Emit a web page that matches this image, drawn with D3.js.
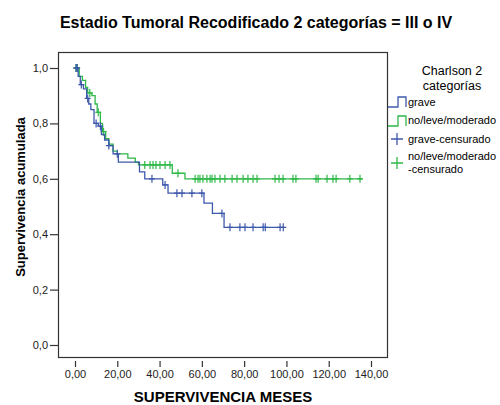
<!DOCTYPE html>
<html>
<head>
  <meta charset="utf-8">
  <title>Supervivencia acumulada</title>
  <style>
    body { margin: 0; background: #fff; }
    svg text { font-family: "Liberation Sans", Arial, sans-serif; fill: #000; }
  </style>
</head>
<body>
  <div id="chart"></div>

  <script src="https://d3js.org/d3.v7.min.js"></script>
  <script>
    // Kaplan-Meier steps (time in months, cumulative survival)
    const graveTimes = [0, 1.5, 2.5, 4, 5.5, 6.5, 7.5, 9, 11, 12.5, 14, 16, 18, 20.5, 30.5, 33, 41.5, 44, 61, 65, 70.5];
    const graveSurv  = [1, 0.97, 0.94, 0.925, 0.89, 0.87, 0.85, 0.80, 0.79, 0.76, 0.74, 0.72, 0.69, 0.66, 0.625, 0.60, 0.578, 0.548, 0.512, 0.475, 0.425];
    const graveEnd = 99;
    const graveCens = [0.5, 1, 3, 6, 10, 12, 16, 20, 36.4, 42.6, 48.2, 50.6, 55.3, 60, 69.5, 73.3, 78, 80.4, 84.2, 89, 90, 97, 98.5];

    const levesTimes = [0, 2, 3.5, 5, 6, 8, 9.5, 10.5, 12, 13, 14.5, 16, 18, 20, 25, 28.5, 30, 46, 52];
    const levesSurv  = [1, 0.97, 0.955, 0.93, 0.91, 0.90, 0.87, 0.84, 0.80, 0.77, 0.745, 0.725, 0.70, 0.69, 0.675, 0.66, 0.65, 0.62, 0.60];
    const levesEnd = 136;
    const levesCens = [0.5, 1, 7, 11, 13.5, 33, 35.5, 36.9, 38.3, 40.2, 42.6, 44.9, 48.7,
      56.8, 58.2, 59.1, 60.5, 62.4, 63.9, 64.8, 66.2, 68.6, 70.9, 74.3, 76.6, 79.5, 81.8,
      84.2, 86.1, 94.6, 96.5, 98.4, 103.1, 104.5, 114, 115, 119.2, 122, 123.5, 130, 134.8];

    const xTicks = [0, 20, 40, 60, 80, 100, 120, 140];
    const yTicks = [0, 0.2, 0.4, 0.6, 0.8, 1.0];
    const legendLabels = ["grave", "no/leve/moderado", "grave-censurado", "no/leve/moderado", "-censurado"];

    const blue = "#3e58ac";
    const green = "#2eb848";

    const svg = d3.select("#chart")
      .append("svg")
      .attr("width", 500)
      .attr("height", 405);

    const x = d3.scaleLinear().domain([0, 140]).range([75, 371]);
    const y = d3.scaleLinear().domain([0, 1]).range([345, 68]);

    const comma = f => v => d3.format(f)(v).replace(".", ",");

    // title
    svg.append("text")
      .attr("x", 256)
      .attr("y", 28)
      .attr("text-anchor", "middle")
      .style("font-size", "16px")
      .style("font-weight", "bold")
      .text("Estadio Tumoral Recodificado 2 categorías = III o IV");

    // plot frame
    svg.append("rect")
      .attr("x", 58.5)
      .attr("y", 52.5)
      .attr("width", 329)
      .attr("height", 305)
      .attr("fill", "none")
      .attr("stroke", "#333")
      .attr("stroke-width", 1.2);

    // axes
    const xAxis = svg.append("g")
      .attr("transform", "translate(0,361)")
      .call(d3.axisBottom(x).tickValues(xTicks).tickSize(6).tickPadding(3).tickFormat(comma(".2f")));
    xAxis.select(".domain").remove();

    const yAxis = svg.append("g")
      .attr("transform", "translate(58,0)")
      .call(d3.axisLeft(y).tickValues(yTicks).tickSize(8).tickPadding(2).tickFormat(comma(".1f")));
    yAxis.select(".domain").remove();

    svg.selectAll(".tick line").attr("stroke", "#333").attr("stroke-width", 1.2);
    svg.selectAll(".tick text").style("font-size", "11px").style("fill", "#222");

    // axis titles
    svg.append("text")
      .attr("x", 223)
      .attr("y", 402)
      .attr("text-anchor", "middle")
      .style("font-size", "15px")
      .style("font-weight", "bold")
      .text("SUPERVIVENCIA MESES");

    svg.append("text")
      .attr("transform", "translate(25,197) rotate(-90)")
      .attr("text-anchor", "middle")
      .style("font-size", "13px")
      .style("font-weight", "bold")
      .text("Supervivencia acumulada");

    // step curves
    const line = d3.line()
      .x(d => x(d[0]))
      .y(d => y(d[1]))
      .curve(d3.curveStepAfter);

    function stepPoints(times, surv, end) {
      const pts = times.map((t, i) => [t, surv[i]]);
      pts.push([end, surv[surv.length - 1]]);
      return pts;
    }

    function survAt(times, surv, t) {
      let s = surv[0];
      times.forEach((tt, i) => { if (tt <= t) s = surv[i]; });
      return s;
    }

    const groups = [
      { times: levesTimes, surv: levesSurv, end: levesEnd, cens: levesCens, color: green },
      { times: graveTimes, surv: graveSurv, end: graveEnd, cens: graveCens, color: blue }
    ];

    groups.forEach(g => {
      svg.append("path")
        .datum(stepPoints(g.times, g.surv, g.end))
        .attr("d", line)
        .attr("fill", "none")
        .attr("stroke", g.color)
        .attr("stroke-width", 1.3);

      svg.selectAll(null)
        .data(g.cens)
        .enter()
        .append("path")
        .attr("d", t => {
          const cx = x(t), cy = y(survAt(g.times, g.surv, t));
          return `M${cx - 3},${cy}H${cx + 3}M${cx},${cy - 4}V${cy + 4}`;
        })
        .attr("stroke", g.color)
        .attr("stroke-width", 1.2);
    });

    // legend
    const legend = svg.append("g");

    legend.append("text")
      .attr("x", 452).attr("y", 75)
      .attr("text-anchor", "middle")
      .style("font-size", "12.5px")
      .text("Charlson 2");
    legend.append("text")
      .attr("x", 452).attr("y", 90)
      .attr("text-anchor", "middle")
      .style("font-size", "12.5px")
      .text("categorías");

    const stepSym = base => `M388,${base}H398V${base - 10}H406V${base}`;
    legend.append("path").attr("d", stepSym(107)).attr("fill", "none").attr("stroke", blue).attr("stroke-width", 1.3);
    legend.append("path").attr("d", stepSym(126)).attr("fill", "none").attr("stroke", green).attr("stroke-width", 1.3);

    const plusSym = (cx, cy) => `M${cx - 6},${cy}H${cx + 6}M${cx},${cy - 6}V${cy + 6}`;
    legend.append("path").attr("d", plusSym(397, 139)).attr("stroke", blue).attr("stroke-width", 1.3);
    legend.append("path").attr("d", plusSym(397, 163)).attr("stroke", green).attr("stroke-width", 1.3);

    const labelPos = [[408, 106], [408, 124], [408, 143], [408, 160], [408, 173]];
    legendLabels.forEach((lab, i) => {
      legend.append("text")
        .attr("x", labelPos[i][0])
        .attr("y", labelPos[i][1])
        .style("font-size", "11px")
        .text(lab);
    });
  </script>
</body>
</html>
